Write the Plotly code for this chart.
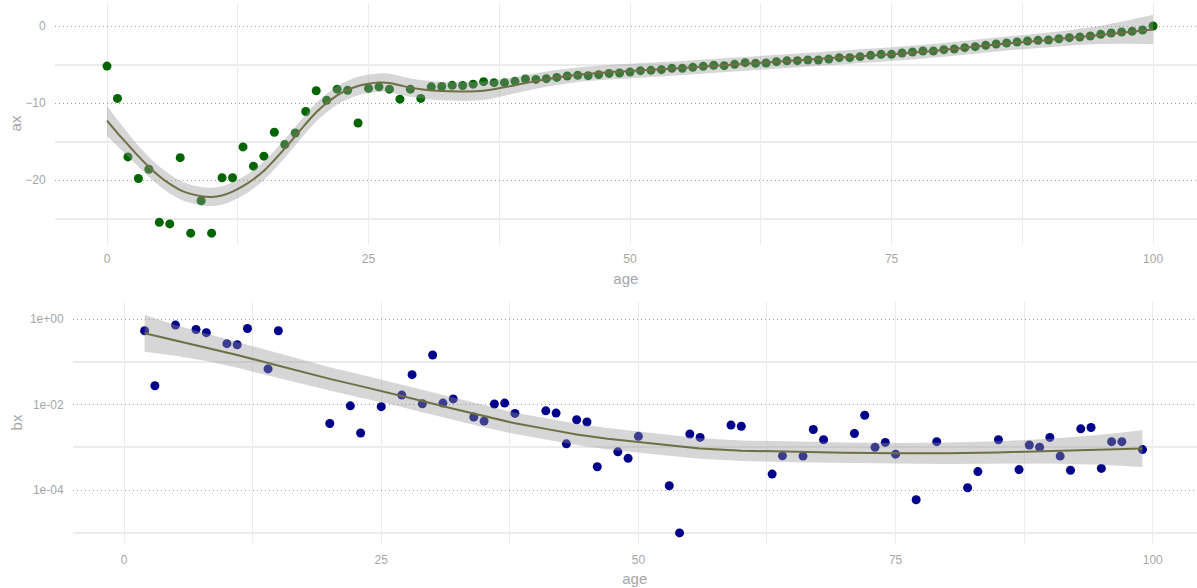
import plotly.graph_objects as go

# ---------------- upper panel: ax by age ----------------
age_ax = list(range(0, 101))
ax = [-5.2, -9.4, -17.0, -19.8, -18.6, -25.5, -25.7, -17.1, -26.9, -22.7,
      -26.9, -19.7, -19.7, -15.7, -18.2, -16.9, -13.8, -15.4, -13.9, -11.1,
      -8.4, -9.65, -8.2, -8.35, -12.6, -8.1, -7.9, -8.2, -9.5, -8.2,
      -9.4, -7.9, -7.85, -7.7, -7.72, -7.55, -7.23, -7.36, -7.36, -7.18,
      -6.88, -6.93, -6.84, -6.67, -6.49, -6.4, -6.45, -6.32, -6.15, -6.1,
      -5.97, -5.8, -5.76, -5.67, -5.5, -5.5, -5.37, -5.24, -5.1, -5.15,
      -4.98, -4.76, -4.85, -4.8, -4.63, -4.52, -4.5, -4.42, -4.42, -4.29,
      -4.11, -4.11, -3.98, -3.81, -3.68, -3.68, -3.51, -3.38, -3.25, -3.25,
      -3.07, -2.99, -2.81, -2.68, -2.51, -2.34, -2.21, -2.08, -1.95, -1.86,
      -1.82, -1.65, -1.51, -1.43, -1.30, -1.08, -0.91, -0.78, -0.69, -0.52, 0.0]

# smoothed ax with its confidence half-width
ax_fit_age = [0, 1, 2, 3, 4, 5, 6, 7, 8, 9, 10, 11, 12, 13, 14, 15, 16, 17, 18, 19,
              20, 21, 22, 23, 24, 25, 26, 27, 28, 29, 30, 32, 34, 36, 38, 40, 42,
              44, 46, 48, 50, 55, 60, 65, 70, 75, 80, 85, 90, 95, 100]
ax_fit = [-12.3, -13.9, -15.4, -16.9, -18.3, -19.5, -20.5, -21.3, -21.8, -22.1,
          -22.2, -22.0, -21.5, -20.8, -19.9, -18.8, -17.4, -15.9, -14.3, -12.7,
          -11.2, -10.0, -9.0, -8.3, -7.8, -7.5, -7.35, -7.4, -7.7, -8.0,
          -8.2, -8.45, -8.5, -8.4, -7.95, -7.4, -6.9, -6.5, -6.2, -6.0,
          -5.85, -5.45, -5.0, -4.55, -4.1, -3.65, -3.1, -2.4, -1.8, -1.15, -0.45]
ax_band = [1.95, 1.7, 1.5, 1.35, 1.3, 1.25, 1.25, 1.2, 1.2, 1.2,
           1.2, 1.2, 1.2, 1.2, 1.2, 1.2, 1.2, 1.2, 1.2, 1.2,
           1.2, 1.2, 1.2, 1.2, 1.2, 1.2, 1.2, 1.2, 1.2, 1.2,
           1.2, 1.2, 1.2, 1.2, 1.1, 1.05, 1.0, 0.95, 0.95, 0.95,
           0.95, 0.9, 0.9, 0.9, 0.9, 0.9, 0.9, 0.9, 0.95, 1.2, 1.9]

# ---------------- lower panel: bx by age (log scale) ----------------
age_bx = [2, 3, 5, 7, 8, 10, 11, 12, 14, 15, 20, 22, 23, 25, 27, 28, 29, 30, 31, 32,
          34, 35, 36, 37, 38, 41, 42, 43, 44, 45, 46, 48, 49, 50, 53, 54, 55, 56, 59, 60,
          63, 64, 66, 67, 68, 71, 72, 73, 74, 75, 77, 79, 82, 83, 85, 87, 88, 89, 90, 91,
          92, 93, 94, 95, 96, 97, 99]
bx = [0.53, 0.0275, 0.72, 0.57, 0.48, 0.265, 0.25, 0.6, 0.068, 0.53,
      0.0036, 0.0093, 0.00215, 0.0089, 0.0166, 0.05, 0.0104, 0.144, 0.0108, 0.0135,
      0.0051, 0.0041, 0.0103, 0.0108, 0.0062, 0.0071, 0.0063, 0.0012, 0.0044, 0.0039,
      0.00035, 0.00078, 0.00055, 0.0018, 0.000126, 9.9e-6, 0.00204, 0.0017, 0.0033, 0.0031,
      0.000236, 0.00063, 0.00062, 0.0026, 0.0015, 0.0021, 0.0056, 0.001, 0.0013, 0.00069,
      5.9e-5, 0.00135, 0.000113, 0.00027, 0.0015, 0.0003, 0.00113, 0.001, 0.0017, 0.00062,
      0.00029, 0.0027, 0.0029, 0.00032, 0.00135, 0.00135, 0.00088]

# smoothed log10(bx) with its confidence half-width (log10 units)
bx_fit_age = [2, 5, 8, 11, 14, 17, 20, 23, 26, 29, 32, 35, 38, 41, 44, 47, 50,
              53, 56, 60, 65, 70, 75, 80, 85, 90, 95, 99]
bx_fit_log10 = [-0.335, -0.50, -0.66, -0.84, -1.03, -1.22, -1.40, -1.57, -1.74,
                -1.92, -2.10, -2.27, -2.44, -2.57, -2.70, -2.80, -2.88, -2.96,
                -3.03, -3.08, -3.11, -3.13, -3.14, -3.14, -3.12, -3.09, -3.06, -3.03]
bx_band_log10 = [0.43, 0.36, 0.32, 0.30, 0.29, 0.28, 0.27, 0.27, 0.26, 0.26, 0.26,
                 0.26, 0.25, 0.25, 0.25, 0.25, 0.25, 0.24, 0.24, 0.24, 0.24, 0.24,
                 0.24, 0.25, 0.26, 0.29, 0.35, 0.43]

age_ticks = [0, 25, 50, 75, 100]
age_minor = [12.5, 37.5, 62.5, 87.5]
ax_ticks = [0, -10, -20]
ax_minor = [-5, -15, -25]
bx_ticks = [1, 1e-2, 1e-4]
bx_tick_text = ["1e+00", "1e-02", "1e-04"]
bx_minor = [1e-1, 1e-3, 1e-5]

POINT_GREEN = "#006400"
POINT_BLUE = "#00008B"
SMOOTH = "#6f6f45"
BAND = "rgba(153,153,153,0.4)"
TEXT = "#a6a6a6"
GRID = "#ebebeb"
DOT_GRID = "#a0a0a0"
DOTS = "1px,3px"
FONT = "Liberation Sans, Arial, sans-serif"

W, H = 1197, 588

fig = go.Figure()

# upper panel
fig.add_trace(go.Scatter(x=age_ax, y=ax, mode="markers",
                         marker=dict(color=POINT_GREEN, size=9, line=dict(width=0)),
                         xaxis="x", yaxis="y", showlegend=False, hoverinfo="x+y"))
ax_hi = [f + b for f, b in zip(ax_fit, ax_band)]
ax_lo = [f - b for f, b in zip(ax_fit, ax_band)]
fig.add_trace(go.Scatter(x=ax_fit_age, y=ax_hi, mode="lines", line=dict(width=0, shape="spline"),
                         xaxis="x", yaxis="y", showlegend=False, hoverinfo="skip"))
fig.add_trace(go.Scatter(x=ax_fit_age, y=ax_lo, mode="lines", line=dict(width=0, shape="spline"),
                         fill="tonexty", fillcolor=BAND,
                         xaxis="x", yaxis="y", showlegend=False, hoverinfo="skip"))
fig.add_trace(go.Scatter(x=ax_fit_age, y=ax_fit, mode="lines",
                         line=dict(color=SMOOTH, width=2, shape="spline"),
                         xaxis="x", yaxis="y", showlegend=False))

# lower panel
fig.add_trace(go.Scatter(x=age_bx, y=bx, mode="markers",
                         marker=dict(color=POINT_BLUE, size=9, line=dict(width=0)),
                         xaxis="x2", yaxis="y2", showlegend=False))
bx_hi = [10 ** (f + b) for f, b in zip(bx_fit_log10, bx_band_log10)]
bx_lo = [10 ** (f - b) for f, b in zip(bx_fit_log10, bx_band_log10)]
bx_fit = [10 ** f for f in bx_fit_log10]
fig.add_trace(go.Scatter(x=bx_fit_age, y=bx_hi, mode="lines", line=dict(width=0),
                         xaxis="x2", yaxis="y2", showlegend=False, hoverinfo="skip"))
fig.add_trace(go.Scatter(x=bx_fit_age, y=bx_lo, mode="lines", line=dict(width=0),
                         fill="tonexty", fillcolor=BAND,
                         xaxis="x2", yaxis="y2", showlegend=False, hoverinfo="skip"))
fig.add_trace(go.Scatter(x=bx_fit_age, y=bx_fit, mode="lines",
                         line=dict(color=SMOOTH, width=2),
                         xaxis="x2", yaxis="y2", showlegend=False))

tickfont = dict(family=FONT, size=12, color=TEXT)
titlefont = dict(family=FONT, size=15, color=TEXT)


def xaxis_style(left_px, anchor, xrange, label_gap, title_gap):
    return dict(
        domain=[left_px / W, 1], anchor=anchor, range=xrange,
        tickmode="array", tickvals=age_ticks, ticks="", tickfont=tickfont,
        showgrid=True, gridcolor=GRID, gridwidth=1.3, zeroline=False, showline=False,
        minor=dict(tickmode="array", tickvals=age_minor, showgrid=True,
                   gridcolor=GRID, gridwidth=1.3, griddash="solid"),
        title=dict(text="age", font=titlefont, standoff=title_gap), automargin=False,
        ticklabelstandoff=label_gap,
    )


def yaxis_style(dom_px, anchor, title, title_gap):
    return dict(
        domain=[1 - dom_px[1] / H, 1 - dom_px[0] / H], anchor=anchor,
        ticks="", tickfont=tickfont,
        showgrid=True, gridcolor=DOT_GRID, griddash=DOTS, gridwidth=1,
        zeroline=False, showline=False,
        title=dict(text=title, font=titlefont, standoff=title_gap), automargin=False,
        ticklabelstandoff=8,
    )


ya1 = yaxis_style((3, 244), "x", "ax", 0)
ya1.update(range=[-28.31, 2.99], tickmode="array", tickvals=ax_ticks,
           minor=dict(tickmode="array", tickvals=ax_minor, showgrid=True,
                      gridcolor=GRID, gridwidth=2, griddash="solid"))
ya2 = yaxis_style((302, 543), "x2", "bx", 3)
ya2.update(type="log", range=[-5.24, 0.398], tickmode="array", tickvals=bx_ticks,
           ticktext=bx_tick_text,
           minor=dict(tickmode="array", tickvals=bx_minor, showgrid=True,
                      gridcolor=GRID, gridwidth=2, griddash="solid"))

fig.update_layout(
    width=W, height=H,
    margin=dict(l=0, r=0, t=0, b=0),
    paper_bgcolor="white", plot_bgcolor="white",
    xaxis=xaxis_style(54.7, "y", [-5, 104.2], 6, 8),
    xaxis2=xaxis_style(72.6, "y2", [-5, 104.3], 8, 7),
    yaxis=ya1,
    yaxis2=ya2,
)

fig.write_html("out.html")
